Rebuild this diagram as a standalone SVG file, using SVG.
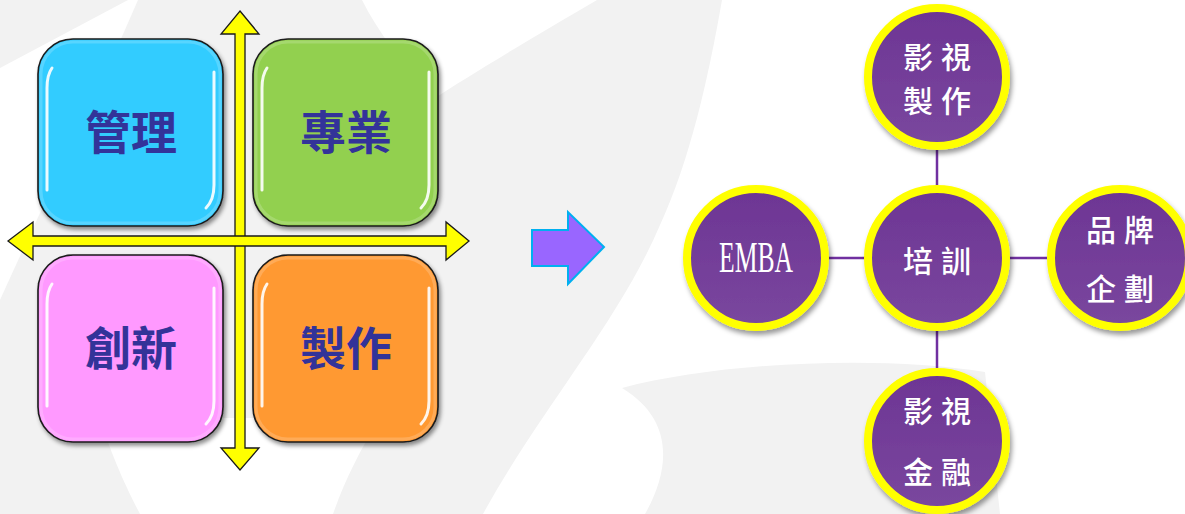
<svg xmlns="http://www.w3.org/2000/svg" width="1185" height="514" viewBox="0 0 1185 514">
  <defs>
    <style>
      .bg { fill: #F2F2F2; }
      .box { stroke: #1a1a1a; stroke-width: 1.6; filter: url(#boxShadow); }
      .glow { fill: none; stroke: #ffffff; stroke-opacity: 0.18; stroke-width: 3; }
      .hl { fill: none; stroke: #ffffff; stroke-width: 3; stroke-linecap: round; stroke-opacity: 0.9; }
      .boxText { font-family: "Noto Sans CJK TC", "Noto Sans CJK SC", sans-serif; font-weight: 700; font-size: 46px; fill: #333399; text-anchor: middle; }
      .yarrow { fill: #FFFF00; stroke: #1a1a1a; stroke-width: 1.3; stroke-linejoin: miter; }
      .ring { fill: url(#purpleGrad); stroke: #FFFF00; stroke-width: 8; filter: url(#circShadow); }
      .cText { font-family: "Noto Sans CJK TC", "Noto Sans CJK SC", sans-serif; font-weight: 500; font-size: 30px; fill: #ffffff; text-anchor: middle; letter-spacing: 8px; }
      .link { stroke: #7030A0; stroke-width: 2.5; fill: none; }
    </style>
    <linearGradient id="purpleGrad" x1="0" y1="0" x2="0" y2="1">
      <stop offset="0" stop-color="#6D3594"/>
      <stop offset="1" stop-color="#7A479E"/>
    </linearGradient>
    <filter id="boxShadow" x="-10%" y="-10%" width="125%" height="125%">
      <feDropShadow dx="2" dy="3" stdDeviation="2" flood-color="#000" flood-opacity="0.45"/>
    </filter>
    <filter id="circShadow" x="-15%" y="-15%" width="135%" height="135%">
      <feDropShadow dx="2" dy="4" stdDeviation="2.5" flood-color="#000" flood-opacity="0.4"/>
    </filter>
  </defs>

  <!-- background watermark -->
  <g id="background">
    <rect x="0" y="0" width="1185" height="514" fill="#ffffff"/>
    <path class="bg" d="M0,0 L722,0 C708,80 690,160 660,225 C620,320 540,410 483,514 L0,514 Z"/>
    <path fill="#ffffff" d="M362,0 L597,0 C525,42 470,75 432,100 C402,62 378,32 362,0 Z"/>
    <path fill="#ffffff" d="M0,68 L128,0 L138,0 C95,100 45,200 0,300 Z"/>
    <path fill="#ffffff" d="M100,418 C112,458 130,495 140,514 L333,514 C345,480 360,450 380,418 Z"/>
    <path class="bg" d="M622,388 C720,362 880,355 985,372 L1000,514 L645,514 C670,470 675,420 622,388 Z"/>
  </g>

  <!-- quadrant boxes -->
  <g id="box-guanli">
    <rect class="box" x="38" y="39" width="185" height="187" rx="35" fill="#33CCFF"/>
    <rect class="glow" x="41" y="42" width="179" height="181" rx="32"/>
    <path class="hl" d="M52,68 Q47,75 47,88 L47,190"/>
    <path class="hl" d="M214,72 L214,185 Q214,200 206,208"/>
    <text class="boxText" x="131" y="149">管理</text>
  </g>
  <g id="box-zhuanye">
    <rect class="box" x="253" y="39" width="185" height="187" rx="35" fill="#92D050"/>
    <rect class="glow" x="256" y="42" width="179" height="181" rx="32"/>
    <path class="hl" d="M267,68 Q262,75 262,88 L262,190"/>
    <path class="hl" d="M429,72 L429,185 Q429,200 421,208"/>
    <text class="boxText" x="346" y="149">專業</text>
  </g>
  <g id="box-chuangxin">
    <rect class="box" x="38" y="255" width="185" height="187" rx="35" fill="#FF99FF"/>
    <rect class="glow" x="41" y="258" width="179" height="181" rx="32"/>
    <path class="hl" d="M52,284 Q47,291 47,304 L47,406"/>
    <path class="hl" d="M214,288 L214,401 Q214,416 206,424"/>
    <text class="boxText" x="131" y="365">創新</text>
  </g>
  <g id="box-zhizuo">
    <rect class="box" x="253" y="255" width="185" height="187" rx="35" fill="#FF9933"/>
    <rect class="glow" x="256" y="258" width="179" height="181" rx="32"/>
    <path class="hl" d="M267,284 Q262,291 262,304 L262,406"/>
    <path class="hl" d="M429,288 L429,401 Q429,416 421,424"/>
    <text class="boxText" x="346" y="365">製作</text>
  </g>

  <!-- yellow axis arrows -->
  <g id="axes">
    <polygon class="yarrow" points="240,11 259,34 245,34 245,448 259,448 240,470 221,448 235,448 235,34 221,34"/>
    <polygon class="yarrow" points="8,241 33,222 33,236 446,236 446,222 469,241 446,260 446,246 33,246 33,260"/>
  </g>

  <!-- transition arrow -->
  <g id="transition-arrow">
    <polygon points="532,230 568,230 568,212 604,247 568,284 568,266 532,266" fill="#9966FF" stroke="#00B0F0" stroke-width="2"/>
  </g>

  <!-- connectors -->
  <g id="connectors">
    <line class="link" x1="937" y1="150" x2="937" y2="186"/>
    <line class="link" x1="937" y1="330" x2="937" y2="368"/>
    <line class="link" x1="828" y1="258" x2="865" y2="258"/>
    <line class="link" x1="1009" y1="258" x2="1047" y2="258"/>
  </g>

  <!-- circle nodes -->
  <g id="node-peixun">
    <circle class="ring" cx="937" cy="258" r="69"/>
    <text class="cText" x="941" y="272">培訓</text>
  </g>
  <g id="node-yingshi-zhizuo">
    <circle class="ring" cx="937" cy="77" r="69"/>
    <text class="cText" x="941" y="68">影視</text>
    <text class="cText" x="941" y="112">製作</text>
  </g>
  <g id="node-emba">
    <circle class="ring" cx="756" cy="258" r="69"/>
    <text x="756" y="272" font-family="Liberation Serif, serif" font-size="44" fill="#ffffff" text-anchor="middle" textLength="74" lengthAdjust="spacingAndGlyphs">EMBA</text>
  </g>
  <g id="node-pinpai">
    <circle class="ring" cx="1120" cy="258" r="69"/>
    <text class="cText" x="1124" y="241">品牌</text>
    <text class="cText" x="1124" y="300">企劃</text>
  </g>
  <g id="node-yingshi-jinrong">
    <circle class="ring" cx="937" cy="441" r="69"/>
    <text class="cText" x="941" y="422">影視</text>
    <text class="cText" x="941" y="483">金融</text>
  </g>
</svg>
